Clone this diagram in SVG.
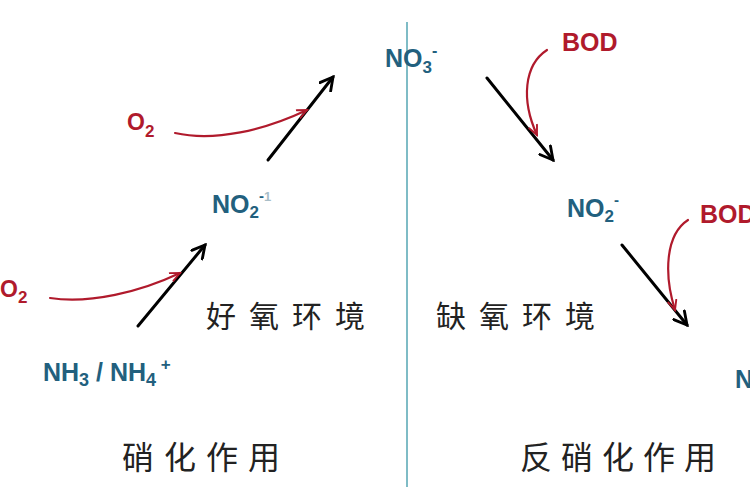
<svg xmlns="http://www.w3.org/2000/svg" width="750" height="500" viewBox="0 0 750 500">
<defs>
<style>
.chem{font-family:"Liberation Sans",Arial,sans-serif;font-weight:bold;fill:#22607e}
.red{font-family:"Liberation Sans",Arial,sans-serif;font-weight:bold;fill:#b01a2c}
.cn{font-family:"Noto Sans CJK SC",sans-serif;fill:#222;font-weight:400}
.blk{fill:none;stroke:#000;stroke-width:3;stroke-linecap:round}
.rd{fill:none;stroke:#b01a2c;stroke-width:2.2;stroke-linecap:round}
</style>
<marker id="ab" viewBox="0 0 14 14" refX="12" refY="7" markerWidth="16" markerHeight="16" markerUnits="userSpaceOnUse" orient="auto">
<path d="M1,1 L12,7 L1,13" fill="none" stroke="#000" stroke-width="2.5" stroke-linecap="round" stroke-linejoin="miter"/>
</marker>
<marker id="ar" viewBox="0 0 14 14" refX="12" refY="7" markerWidth="12" markerHeight="12" markerUnits="userSpaceOnUse" orient="auto">
<path d="M1,2 L12,7 L1,12" fill="none" stroke="#b01a2c" stroke-width="2.2" stroke-linecap="round"/>
</marker>
</defs>
<rect width="750" height="500" fill="#fff"/>
<line x1="407" y1="22" x2="407" y2="487" stroke="#7fbcc6" stroke-width="2"/>
<g id="connectors">
<line class="blk" x1="268" y1="160" x2="333" y2="77" marker-end="url(#ab)"/>
<line class="blk" x1="138" y1="326" x2="205" y2="245" marker-end="url(#ab)"/>
<line class="blk" x1="487" y1="78" x2="553" y2="160" marker-end="url(#ab)"/>
<line class="blk" x1="622" y1="245" x2="687" y2="325" marker-end="url(#ab)"/>
<path class="rd" d="M175,133 C215,142 265,130 307,110" marker-end="url(#ar)"/>
<path class="rd" d="M50,298 C90,304 140,292 180,273" marker-end="url(#ar)"/>
<path class="rd" d="M547,50 C524,65 521,100 537,135" marker-end="url(#ar)"/>
<path class="rd" d="M688,220 C665,235 664,275 675,310" marker-end="url(#ar)"/>
</g>
<g id="no3"><text class="chem" x="385" y="67" font-size="25">NO<tspan font-size="17" dy="6">3</tspan><tspan font-size="16" dy="-17">-</tspan></text></g>
<g id="bod1"><text class="red" x="562" y="51" font-size="25">BOD</text></g>
<g id="o2a"><text class="red" x="127" y="130" font-size="23">O<tspan font-size="17" dy="7">2</tspan></text></g>
<g id="no2a"><text class="chem" x="212" y="213" font-size="25">NO<tspan font-size="17" dy="5">2</tspan><tspan font-size="15" dy="-17">-</tspan><tspan font-size="13" fill="#a9bec8">1</tspan></text></g>
<g id="o2b"><text class="red" x="0" y="297" font-size="23">O<tspan font-size="17" dy="6">2</tspan></text></g>
<g id="nh"><text class="chem" x="43" y="381" font-size="25">NH<tspan font-size="18" dy="5">3</tspan><tspan dy="-5"> / NH</tspan><tspan font-size="18" dy="5">4</tspan><tspan font-size="17" dy="-16"> +</tspan></text></g>
<g id="no2b"><text class="chem" x="567" y="217" font-size="25">NO<tspan font-size="17" dy="5">2</tspan><tspan font-size="15" dy="-17">-</tspan></text></g>
<g id="bod2"><text class="red" x="700" y="223" font-size="25">BOD</text></g>
<g id="n2"><text class="chem" x="735" y="388" font-size="25">N</text></g>
<g id="aerobic"><text class="cn" x="206" y="327" font-size="30" letter-spacing="13">好氧环境</text></g>
<g id="anoxic"><text class="cn" x="436" y="327" font-size="30" letter-spacing="13">缺氧环境</text></g>
<g id="nitrification"><text class="cn" x="122" y="469" font-size="32" letter-spacing="10">硝化作用</text></g>
<g id="denitrification"><text class="cn" x="520" y="469" font-size="32" letter-spacing="9">反硝化作用</text></g>
</svg>
